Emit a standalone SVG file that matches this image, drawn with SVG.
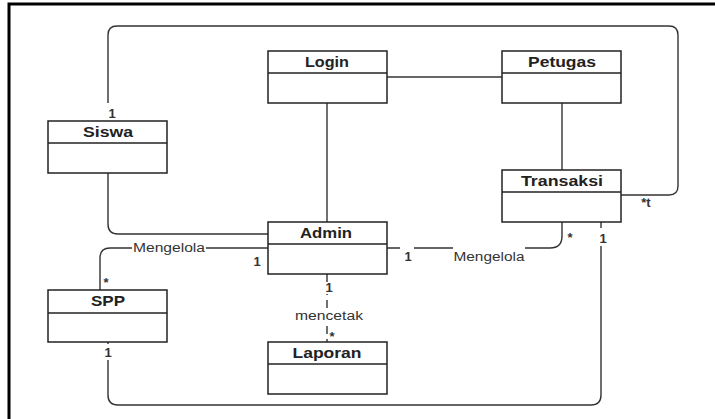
<svg xmlns="http://www.w3.org/2000/svg" width="715" height="419" viewBox="0 0 715 419">
<style>
.box{fill:#fff;stroke:#222;stroke-width:1.5}
.div{stroke:#222;stroke-width:1.5}
.title{font-family:"Liberation Sans",Arial,sans-serif;font-size:14px;font-weight:bold;fill:#222;text-anchor:middle}
.conn{fill:none;stroke:#333;stroke-width:1.4}
.dash{stroke-dasharray:8 5}
.lbl{font-family:"Liberation Sans",Arial,sans-serif;font-size:12.5px;fill:#333;text-anchor:middle}
.mul{font-family:"Liberation Sans",Arial,sans-serif;font-size:13px;font-weight:bold;fill:#333;text-anchor:middle}
.bg{fill:#fff}
</style>
<rect x="0" y="0" width="715" height="419" fill="#fff"/>
<path d="M9,419 V4 H715" fill="none" stroke="#000" stroke-width="3"/>
<g id="connectors">
<path class="conn" d="M108,103 V35 Q108,26 117,26 H669 Q678,26 678,35 V186 Q678,195 669,195 H621"/>
<path class="conn" d="M327,103 V222"/>
<path class="conn" d="M387,77 H502"/>
<path class="conn" d="M562,103 V170"/>
<path class="conn" d="M108,173 V224 Q108,234 118,234 H268"/>
<path class="conn" d="M268,248 H110 Q100,248 100,258 V290"/>
<path class="conn" d="M387,248 H550 Q562,248 562,236 V222"/>
<path class="conn dash" d="M327,274 V342"/>
<path class="conn" d="M108,342 V395 Q108,405 118,405 H591 Q601,405 601,395 V222"/>
<rect class="bg" x="104" y="104" width="10" height="16"/>
<rect class="bg" x="132" y="242" width="74" height="13"/>
<rect class="bg" x="400" y="244" width="14" height="18"/>
<rect class="bg" x="453" y="244" width="72" height="19"/>
<rect class="bg" x="596" y="228" width="12" height="18"/>
<rect class="bg" x="321" y="282" width="12" height="12"/>
<rect class="bg" x="292" y="309" width="70" height="14"/>
<rect class="bg" x="102" y="344" width="12" height="16"/>
</g>
<g id="labels">
<text class="mul" x="112" y="118">1</text>
<text class="mul" x="646" y="207">*t</text>
<text class="lbl" x="169" y="252" textLength="72" lengthAdjust="spacingAndGlyphs">Mengelola</text>
<text class="mul" x="257" y="266">1</text>
<text class="mul" x="106" y="287">*</text>
<text class="mul" x="408" y="261">1</text>
<text class="lbl" x="489" y="261" textLength="71" lengthAdjust="spacingAndGlyphs">Mengelola</text>
<text class="mul" x="570" y="242">*</text>
<text class="mul" x="603" y="243">1</text>
<text class="mul" x="329" y="292">1</text>
<text class="lbl" x="329" y="320" textLength="68" lengthAdjust="spacingAndGlyphs">mencetak</text>
<text class="mul" x="332" y="341">*</text>
<text class="mul" x="108" y="357">1</text>
</g>
<g id="siswa">
<rect class="box" x="48" y="121" width="119" height="52"/>
<line class="div" x1="48" y1="143" x2="167" y2="143"/>
<text class="title" x="108" y="137" textLength="50" lengthAdjust="spacingAndGlyphs">Siswa</text>
</g>
<g id="login">
<rect class="box" x="268" y="51" width="119" height="52"/>
<line class="div" x1="268" y1="73" x2="387" y2="73"/>
<text class="title" x="327" y="67" textLength="44" lengthAdjust="spacingAndGlyphs">Login</text>
</g>
<g id="petugas">
<rect class="box" x="502" y="51" width="119" height="52"/>
<line class="div" x1="502" y1="73" x2="621" y2="73"/>
<text class="title" x="562" y="67" textLength="68" lengthAdjust="spacingAndGlyphs">Petugas</text>
</g>
<g id="transaksi">
<rect class="box" x="502" y="170" width="119" height="52"/>
<line class="div" x1="502" y1="192" x2="621" y2="192"/>
<text class="title" x="562" y="186" textLength="82" lengthAdjust="spacingAndGlyphs">Transaksi</text>
</g>
<g id="admin">
<rect class="box" x="268" y="222" width="119" height="52"/>
<line class="div" x1="268" y1="244" x2="387" y2="244"/>
<text class="title" x="326" y="238" textLength="52" lengthAdjust="spacingAndGlyphs">Admin</text>
</g>
<g id="spp">
<rect class="box" x="48" y="290" width="119" height="52"/>
<line class="div" x1="48" y1="313" x2="167" y2="313"/>
<text class="title" x="108" y="306" textLength="34" lengthAdjust="spacingAndGlyphs">SPP</text>
</g>
<g id="laporan">
<rect class="box" x="268" y="342" width="119" height="52"/>
<line class="div" x1="268" y1="364" x2="387" y2="364"/>
<text class="title" x="327" y="358" textLength="69" lengthAdjust="spacingAndGlyphs">Laporan</text>
</g>
</svg>
